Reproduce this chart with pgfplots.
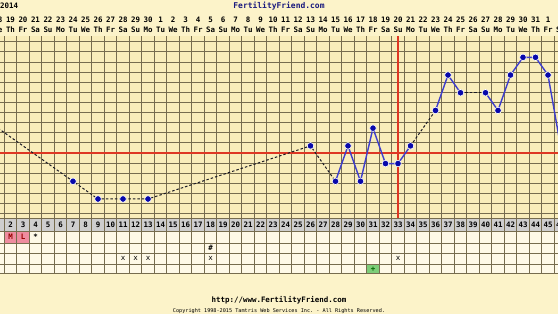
\documentclass[border=0pt]{standalone}
\usepackage{pgfplots}
\pgfplotsset{compat=1.18}
\usepackage{fontspec}
\setmainfont{DejaVu Sans}
\setmonofont{DejaVu Sans Mono}
\definecolor{pagebg}{RGB}{252,243,201}
\definecolor{chartbg}{RGB}{249,237,186}
\definecolor{rowbg}{RGB}{254,249,231}
\definecolor{gridc}{RGB}{118,108,78}
\definecolor{bandc}{RGB}{206,206,206}
\definecolor{ffblue}{RGB}{25,25,125}
\definecolor{redl}{RGB}{222,55,35}
\definecolor{bluel}{RGB}{62,62,205}
\definecolor{dotc}{RGB}{8,8,170}
\definecolor{pinkc}{RGB}{238,140,158}
\definecolor{greenc}{RGB}{125,205,120}
\definecolor{dashc}{RGB}{25,25,35}
\begin{document}
\begin{tikzpicture}
\begin{scope}[x=1bp,y=-1bp,font=\ttfamily\bfseries\fontsize{7.5}{8}\selectfont]
\fill[pagebg] (-20,-5) rectangle (580,320);
\fill[chartbg] (0,36) rectangle (558,218);
\fill[bandc] (0,218) rectangle (558,231.2);
\fill[rowbg] (0,231.2) rectangle (558,273.7);
\fill[pinkc] (4.25,231.2) rectangle (29.25,243);
\fill[greenc] (366.75,264.2) rectangle (379.25,273.7);
\foreach \k in {0,...,17} \draw[gridc, line width=0.7bp] (0,{41.7+10.1*\k}) -- (558,{41.7+10.1*\k});
\foreach \y in {218,231.2,243,253.3,264.2,273.7} \draw[gridc, line width=0.7bp] (0,\y) -- (558,\y);
\foreach \k in {0,...,44} \draw[gridc, line width=0.7bp] ({4.25+12.5*\k},36) -- ({4.25+12.5*\k},273.7);
% header
\node[anchor=west, inner sep=0] at (0,6) {2014};
\node[ffblue, inner sep=0, font=\ttfamily\bfseries\fontsize{8}{9}\selectfont] at (279,6) {FertilityFriend.com};
\foreach \d/\dt/\dw in {1/18/We,2/19/Th,3/20/Fr,4/21/Sa,5/22/Su,6/23/Mo,7/24/Tu,8/25/We,9/26/Th,10/27/Fr,11/28/Sa,12/29/Su,13/30/Mo,14/1/Tu,15/2/We,16/3/Th,17/4/Fr,18/5/Sa,19/6/Su,20/7/Mo,21/8/Tu,22/9/We,23/10/Th,24/11/Fr,25/12/Sa,26/13/Su,27/14/Mo,28/15/Tu,29/16/We,30/17/Th,31/18/Fr,32/19/Sa,33/20/Su,34/21/Mo,35/22/Tu,36/23/We,37/24/Th,38/25/Fr,39/26/Sa,40/27/Su,41/28/Mo,42/29/Tu,43/30/We,44/31/Th,45/1/Fr,46/2/Sa}{
  \node[inner sep=0] at ({10.5+12.5*(\d-2)},19.5) {\dt};
  \node[inner sep=0] at ({10.5+12.5*(\d-2)},30) {\dw};
  \node[inner sep=0] at ({10.5+12.5*(\d-2)},224.6) {\d};
}
% table marks
\node[inner sep=0, red!60!black] at (10.5,237.2) {M};
\node[inner sep=0, red!60!black] at (23,237.2) {L};
\node[inner sep=0] at (35.5,237.2) {*};
\node[inner sep=0] at (210.5,248) {\#};
\foreach \d in {11,12,13,18,33} \node[inner sep=0, font=\ttfamily\fontsize{7.5}{8}\selectfont] at ({10.5+12.5*(\d-2)},258.9) {x};
\node[inner sep=0, green!40!black] at (373,269) {+};
% footer
\node[inner sep=0] at (279,300) {http://www.FertilityFriend.com};
\node[inner sep=0, font=\ttfamily\fontsize{5.2}{6}\selectfont] at (279,311) {Copyright 1998-2015 Tamtris Web Services Inc. - All Rights Reserved.};
\end{scope}
\begin{axis}[at={(0bp,-314bp)}, anchor=south west, scale only axis,
  width=558bp, height=314bp, xmin=1.16, xmax=45.8, ymin=96.4506, ymax=98.2237,
  axis lines=none, clip=true]
% coverline and ovulation line
\addplot[redl, line width=1.8bp] coordinates {(0,97.36) (47,97.36)};
\addplot[redl, line width=1.8bp] coordinates {(33,96.9927) (33,98.0204)};
% dashed connections across missing days
\addplot[dashc, line width=1bp, dash pattern=on 2.5bp off 2bp] coordinates {
(1,97.5) (7,97.2) (9,97.1) (11,97.1) (13,97.1) (26,97.4) (28,97.2)};
\addplot[dashc, line width=1bp, dash pattern=on 2.5bp off 2bp] coordinates {(34,97.4) (36,97.6)};
\addplot[dashc, line width=1bp, dash pattern=on 2.5bp off 2bp] coordinates {(38,97.7) (40,97.7)};
% solid connections
\addplot[bluel, line width=1.4bp] coordinates {
(28,97.2) (29,97.4) (30,97.2) (31,97.5) (32,97.3) (33,97.3) (34,97.4)};
\addplot[bluel, line width=1.4bp] coordinates {(36,97.6) (37,97.8) (38,97.7)};
\addplot[bluel, line width=1.4bp] coordinates {
(40,97.7) (41,97.6) (42,97.8) (43,97.9) (44,97.9) (45,97.8) (46,97.4)};
% temperatures
\addplot[only marks, mark=*, mark size=3.3bp, mark options={fill=dotc, draw=white, line width=0.6bp}] coordinates {
(1,97.5) (7,97.2) (9,97.1) (11,97.1) (13,97.1) (26,97.4) (28,97.2) (29,97.4) (30,97.2) (31,97.5) (32,97.3) (33,97.3) (34,97.4) (36,97.6) (37,97.8) (38,97.7) (40,97.7) (41,97.6) (42,97.8) (43,97.9) (44,97.9) (45,97.8) (46,97.4)};
\end{axis}
\pgfresetboundingbox
\path[use as bounding box] (0,0) rectangle (558bp,-314bp);
\end{tikzpicture}
\end{document}
